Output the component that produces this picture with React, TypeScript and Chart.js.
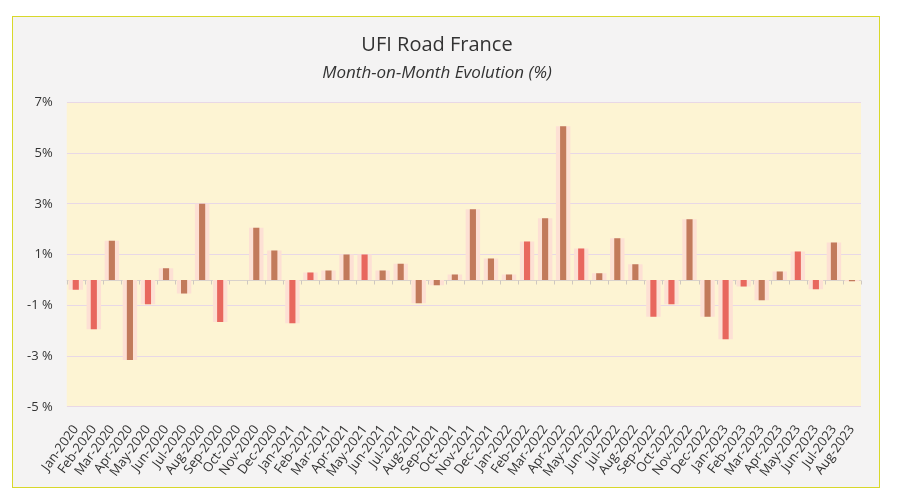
import React, { useEffect, useRef } from "react";
import { Chart, registerables } from "chart.js";

Chart.register(...registerables);

const months: string[] = [
  "Jan-2020", "Feb-2020", "Mar-2020", "Apr-2020", "May-2020", "Jun-2020", "Jul-2020", "Aug-2020", "Sep-2020", "Oct-2020", "Nov-2020", "Dec-2020",
  "Jan-2021", "Feb-2021", "Mar-2021", "Apr-2021", "May-2021", "Jun-2021", "Jul-2021", "Aug-2021", "Sep-2021", "Oct-2021", "Nov-2021", "Dec-2021",
  "Jan-2022", "Feb-2022", "Mar-2022", "Apr-2022", "May-2022", "Jun-2022", "Jul-2022", "Aug-2022", "Sep-2022", "Oct-2022", "Nov-2022", "Dec-2022",
  "Jan-2023", "Feb-2023", "Mar-2023", "Apr-2023", "May-2023", "Jun-2023", "Jul-2023", "Aug-2023",
];

const momEvolution: number[] = [
  -0.39, -1.94, 1.55, -3.15, -0.96, 0.46, -0.53, 3.0, -1.66, 0.0, 2.06, 1.16,
  -1.71, 0.29, 0.37, 1.0, 1.0, 0.37, 0.64, -0.92, -0.21, 0.22, 2.79, 0.85,
  0.22, 1.52, 2.43, 6.06, 1.24, 0.27, 1.64, 0.62, -1.45, -0.96, 2.39, -1.45,
  -2.34, -0.26, -0.8, 0.33, 1.12, -0.37, 1.48, -0.05,
];

// "r" = red bar, "b" = brown bar
const barTone: string[] = [
  "r", "r", "b", "b", "r", "b", "b", "b", "r", "b", "b", "b",
  "r", "r", "b", "b", "r", "b", "b", "b", "b", "b", "b", "b",
  "b", "r", "b", "b", "r", "b", "b", "b", "r", "r", "b", "b",
  "r", "r", "b", "b", "r", "r", "b", "b",
];

const yTicks: number[] = [-5, -3, -1, 1, 3, 5, 7];

const RED = "#e8675e";
const BROWN = "#c27a5b";
const SHADOW = "#fde0d4";

const decorPlugin = {
  id: "decor",
  beforeDraw(chart: any) {
    const { ctx, chartArea } = chart;
    ctx.save();
    ctx.fillStyle = "#fdf4d3";
    ctx.fillRect(chartArea.left, chartArea.top, chartArea.right - chartArea.left, chartArea.bottom - chartArea.top);
    ctx.restore();
  },
  beforeDatasetsDraw(chart: any) {
    const { ctx, chartArea, scales } = chart;
    const y0 = Math.round(scales.y.getPixelForValue(0)) + 0.5;
    ctx.save();
    ctx.strokeStyle = "#d9d2cc";
    ctx.lineWidth = 1;
    ctx.beginPath();
    ctx.moveTo(chartArea.left, y0);
    ctx.lineTo(chartArea.right, y0);
    ctx.stroke();
    const x = scales.x;
    ctx.strokeStyle = "#cfc8c0";
    for (let i = 0; i <= months.length; i++) {
      const px = Math.round(x.getPixelForValue(i - 0.5)) + 0.5;
      ctx.beginPath();
      ctx.moveTo(px, y0);
      ctx.lineTo(px, y0 + 4);
      ctx.stroke();
    }
    ctx.restore();
  },
};

export default function App() {
  const canvasRef = useRef<HTMLCanvasElement | null>(null);

  useEffect(() => {
    if (!canvasRef.current) return;
    const chart = new Chart(canvasRef.current, {
      type: "bar",
      data: {
        labels: months,
        datasets: [
          {
            label: "MoM",
            data: momEvolution,
            backgroundColor: barTone.map((t) => (t === "r" ? RED : BROWN)),
            barPercentage: 0.34,
            categoryPercentage: 1,
            grouped: false,
            order: 1,
          },
          {
            label: "shadow",
            data: momEvolution,
            backgroundColor: SHADOW,
            barPercentage: 0.8,
            categoryPercentage: 1,
            grouped: false,
            order: 2,
          },
        ],
      },
      options: {
        animation: false,
        responsive: true,
        maintainAspectRatio: false,
        layout: { padding: { left: 0, right: 18, top: 4, bottom: 0 } },
        plugins: {
          legend: { display: false },
          tooltip: { enabled: false },
          title: {
            display: true,
            text: "UFI Road France",
            color: "#333333",
            font: { family: "Open Sans", size: 20, weight: "normal" },
            padding: { top: 12, bottom: 6 },
          },
          subtitle: {
            display: true,
            text: "Month-on-Month Evolution (%)",
            color: "#333333",
            font: { family: "Open Sans", size: 17, style: "italic" },
            padding: { top: 0, bottom: 19 },
          },
        },
        scales: {
          x: {
            grid: { display: false },
            border: { display: false },
            ticks: {
              autoSkip: false,
              minRotation: 54,
              maxRotation: 54,
              color: "#333333",
              padding: 7.5,
              font: { family: "Open Sans", size: 13 },
            },
          },
          y: {
            min: -5,
            max: 7,
            afterBuildTicks: (axis: any) => {
              axis.ticks = yTicks.map((v) => ({ value: v }));
            },
            grid: { color: "#e8d8e6", drawTicks: false },
            border: { display: false },
            ticks: {
              color: "#333333",
              padding: 14,
              font: { family: "Open Sans", size: 13 },
              callback: (v: any) => (Number(v) < 0 ? `${v} %` : `${v}%`),
            },
          },
        },
      },
      plugins: [decorPlugin],
    });
    return () => chart.destroy();
  }, []);

  return (
    <div
      style={{
        position: "relative",
        width: 866,
        height: 470,
        marginLeft: 4,
        marginTop: 8,
        border: "1px solid #d8d82a",
        background: "#f4f3f3",
      }}
    >
      <canvas ref={canvasRef} />
    </div>
  );
}
